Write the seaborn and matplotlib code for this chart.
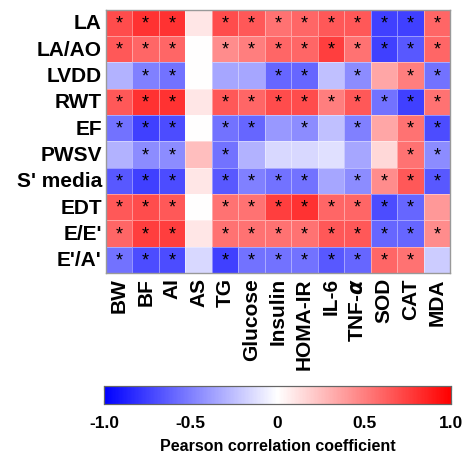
import numpy as np
import pandas as pd
import matplotlib
matplotlib.use("Agg")
import matplotlib.pyplot as plt
import seaborn as sns

rows = ["LA", "LA/AO", "LVDD", "RWT", "EF", "PWSV", "S' media", "EDT", "E/E'", "E'/A'"]
cols = ["BW", "BF", "AI", "AS", "TG", "Glucose", "Insulin", "HOMA-IR", "IL-6",
        "TNF-$\\alpha$", "SOD", "CAT", "MDA"]

r_LA     = [0.70, 0.80, 0.80, 0.10, 0.70, 0.65, 0.55, 0.60, 0.65, 0.65, -0.75, -0.75, 0.60]
r_LAAO   = [0.65, 0.60, 0.60, 0.00, 0.45, 0.50, 0.60, 0.60, 0.75, 0.55, -0.75, -0.65, 0.60]
r_LVDD   = [-0.30, -0.50, -0.55, 0.00, -0.35, -0.35, -0.60, -0.60, -0.25, -0.45, 0.35, 0.50, -0.55]
r_RWT    = [0.65, 0.80, 0.80, 0.10, 0.65, 0.60, 0.70, 0.70, 0.50, 0.65, -0.55, -0.75, 0.55]
r_EF     = [-0.55, -0.75, -0.70, 0.00, -0.55, -0.60, -0.40, -0.45, -0.25, -0.50, 0.35, 0.55, -0.70]
r_PWSV   = [-0.30, -0.45, -0.45, 0.25, -0.55, -0.30, -0.15, -0.15, -0.12, -0.35, 0.15, 0.55, -0.45]
r_Smedia = [-0.65, -0.75, -0.70, 0.10, -0.65, -0.50, -0.55, -0.55, -0.35, -0.45, 0.45, 0.65, -0.65]
r_EDT    = [0.65, 0.70, 0.65, 0.00, 0.55, 0.55, 0.75, 0.80, 0.60, 0.60, -0.70, -0.60, 0.40]
r_EE     = [0.60, 0.75, 0.75, 0.10, 0.55, 0.55, 0.55, 0.55, 0.65, 0.65, -0.60, -0.60, 0.45]
r_EA     = [-0.55, -0.70, -0.70, -0.15, -0.75, -0.55, -0.55, -0.55, -0.65, -0.60, 0.60, 0.55, -0.20]

# significance flags (1 = *)
s_LA     = [1, 1, 1, 0, 1, 1, 1, 1, 1, 1, 1, 1, 1]
s_LAAO   = [1, 1, 1, 0, 1, 1, 1, 1, 1, 1, 1, 1, 1]
s_LVDD   = [0, 1, 1, 0, 0, 0, 1, 1, 0, 1, 0, 1, 1]
s_RWT    = [1, 1, 1, 0, 1, 1, 1, 1, 1, 1, 1, 1, 1]
s_EF     = [1, 1, 1, 0, 1, 1, 0, 1, 0, 1, 0, 1, 1]
s_PWSV   = [0, 1, 1, 0, 1, 0, 0, 0, 0, 0, 0, 1, 1]
s_Smedia = [1, 1, 1, 0, 1, 1, 1, 1, 0, 1, 1, 1, 1]
s_EDT    = [1, 1, 1, 0, 1, 1, 1, 1, 1, 1, 1, 1, 0]
s_EE     = [1, 1, 1, 0, 1, 1, 1, 1, 1, 1, 1, 1, 1]
s_EA     = [1, 1, 1, 0, 1, 1, 1, 1, 1, 1, 1, 1, 0]

cbar_ticks = [-1.0, -0.5, 0.0, 0.5, 1.0]
cbar_ticklabels = ["-1.0", "-0.5", "0", "0.5", "1.0"]

vals = np.array([r_LA, r_LAAO, r_LVDD, r_RWT, r_EF, r_PWSV, r_Smedia, r_EDT, r_EE, r_EA])
sig = np.array([s_LA, s_LAAO, s_LVDD, s_RWT, s_EF, s_PWSV, s_Smedia, s_EDT, s_EE, s_EA])
df = pd.DataFrame(vals, index=rows, columns=cols)
annot = np.where(sig == 1, "*", "")

sns.set_style("white")
plt.rcParams["font.family"] = ["Liberation Sans", "DejaVu Sans"]
plt.rcParams["font.weight"] = "bold"
plt.rcParams["text.color"] = "black"
plt.rcParams["xtick.color"] = "black"
plt.rcParams["ytick.color"] = "black"
plt.rcParams["axes.labelcolor"] = "black"

fig = plt.figure(figsize=(4.62, 4.56), dpi=100)
ax = fig.add_axes([0.2294, 0.399, 0.7446, 0.5774])
cax = fig.add_axes([0.225, 0.1118, 0.751, 0.0395])

sns.heatmap(df, ax=ax, cmap="bwr", vmin=-1, vmax=1, annot=annot, fmt="",
            annot_kws={"color": "black", "fontsize": 13, "fontweight": "normal", "va": "center"},
            linewidths=0.7, linecolor=(1, 1, 1, 0.4), cbar_ax=cax,
            cbar_kws={"orientation": "horizontal", "ticks": cbar_ticks})

for sp in ax.spines.values():
    sp.set_visible(True)
    sp.set_color("#999999")
    sp.set_linewidth(1.0)

ax.set_xlabel("")
ax.set_ylabel("")
ax.tick_params(axis="both", length=0, pad=3)
ax.set_yticklabels(rows, rotation=0, fontsize=15, fontweight="bold", color="black")
ax.set_xticklabels(cols, rotation=90, fontsize=15, fontweight="bold", color="black")

cax.set_xticklabels(cbar_ticklabels, fontsize=12.5, fontweight="bold", color="black")
cax.xaxis.set_ticks_position("both")
cax.tick_params(axis="x", direction="in", length=3, width=0.8, color="#333333", pad=8)
cax.set_xlabel("Pearson correlation coefficient", fontsize=11.5, fontweight="bold",
               labelpad=6, color="black")
for sp in cax.spines.values():
    sp.set_visible(True)
    sp.set_color("#666666")
    sp.set_linewidth(0.8)

fig.savefig("out.png", dpi=100)
